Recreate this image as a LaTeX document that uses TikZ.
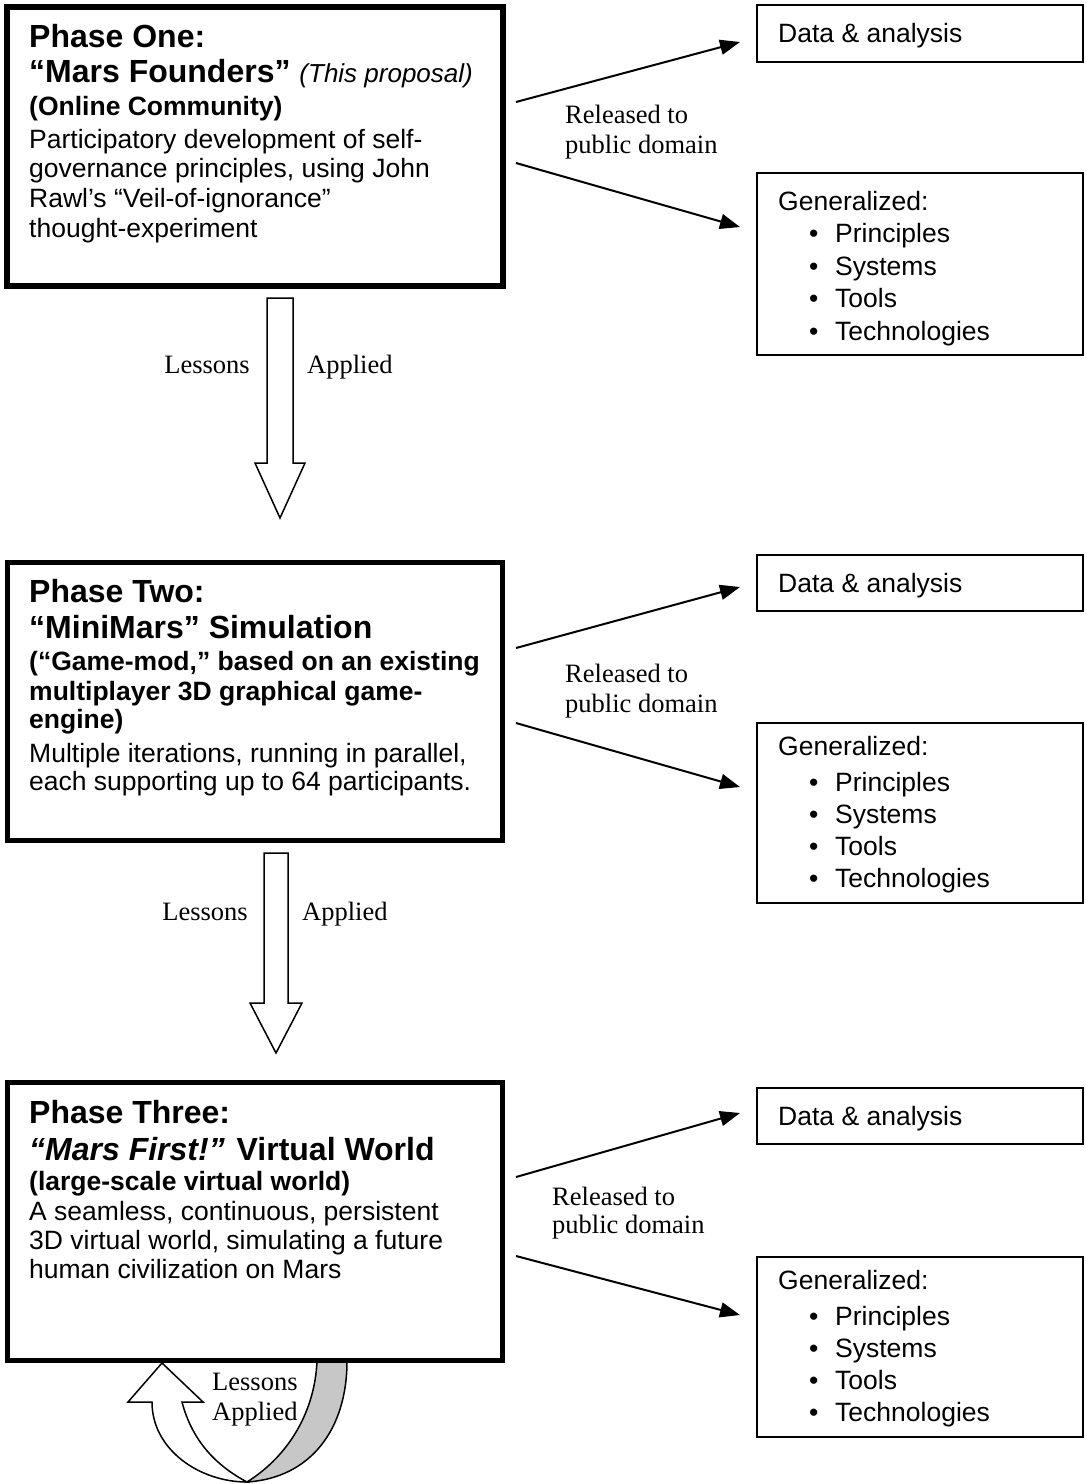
\documentclass[tikz,border=0pt]{standalone}
\usepackage{fontspec}
\setmainfont{Liberation Sans}
\newfontfamily\timesfont{Liberation Serif}
\usetikzlibrary{arrows.meta}

% plain word spaces of the font in force
\newcommand{\fontspaces}{\spaceskip=0pt\xspaceskip=0pt\relax}
\newcommand{\gitem}[2]{\par\fontsize{26.5}{#1}\selectfont\hspace*{31pt}\makebox[26pt][l]{•}#2}

\tikzset{
    phasebox/.style={draw, line width=5pt, anchor=north west, outer sep=0pt, inner sep=0pt},
    outbox/.style={draw, line width=2.5pt, anchor=north west, outer sep=0pt, inner sep=0pt,
        minimum width=326, minimum height=57},
    genbox/.style={outbox, minimum height=180},
    txt/.style={anchor=base west, inner sep=0pt, text width=470pt},
    boxtxt/.style={anchor=base west, inner sep=0pt, text width=290pt,
        font=\fontsize{26.5}{32.5}\selectfont},
    reltxt/.style={anchor=base west, inner sep=0pt, text width=180pt,
        font=\timesfont\fontsize{26.5}{30}\selectfont},
    lessontxt/.style={inner sep=0pt, font=\timesfont\fontsize{26.5}{30}\selectfont},
    rel/.style={-{Triangle[length=20pt,width=15pt]}, line width=2pt},
    fatarrow/.style={draw, line width=1.5pt, fill=white, line join=miter},
}

\begin{document}
\begin{tikzpicture}[x=1pt, y=-1pt]
    \useasboundingbox (0,0) rectangle (1085,1484);

    % Loop arrow under phase three
    \filldraw[fatarrow, fill=black!22] (317,1361) .. controls (315,1410) and (290,1455) .. (247,1482)
        .. controls (310,1478) and (347,1430) .. (347,1361) -- cycle;
    \filldraw[fatarrow] (203,1402) -- (162,1363) -- (128,1402) -- (152,1402)
        .. controls (152,1450) and (200,1482) .. (247,1482)
        .. controls (215,1465) and (192,1440) .. (182,1402) -- cycle;
    \node[lessontxt, anchor=base west, text width=90pt] (loop) at (212,1390) {Lessons\par Applied};

    % Phase boxes
    \node[phasebox, line width=6pt, minimum width=495.5, minimum height=279.5] (p1) at (7,6.5) {};
    \node[phasebox, minimum width=494.5, minimum height=278] (p2) at (7.5,562.5) {};
    \node[phasebox, minimum width=495, minimum height=278.5] (p3) at (7.5,1082) {};

    % Phase one text
    \node[txt] (t1) at (29,47) {\fontspaces
        \fontsize{32}{35}\selectfont\bfseries Phase One:\par
        \fontsize{32}{35}\selectfont “Mars Founders” {\mdseries\itshape\fontsize{26}{30}\selectfont (This proposal)}\par
        \fontsize{26.5}{33}\selectfont (Online Community)\par
        \mdseries\fontsize{26.5}{33}\selectfont Participatory development of self-\par
        \fontsize{26.5}{29.5}\selectfont governance principles, using John\par
        \fontsize{26.5}{30}\selectfont Rawl’s “Veil-of-ignorance”\par
        thought-experiment\par};

    % Phase two text
    \node[txt] (t2) at (29,602) {\fontspaces
        \fontsize{32}{36}\selectfont\bfseries Phase Two:\par
        “MiniMars” Simulation\par
        \fontsize{26.5}{32}\selectfont (“Game-mod,” based on an existing\par
        \fontsize{26.5}{30}\selectfont multiplayer 3D graphical game-\par
        \fontsize{26.5}{28}\selectfont engine)\par
        \mdseries\fontsize{26.5}{34}\selectfont Multiple iterations, running in parallel,\par
        \fontsize{26.5}{28}\selectfont each supporting up to 64 participants.\par};

    % Phase three text
    \node[txt] (t3) at (29,1123) {\fontspaces
        \fontsize{32}{37}\selectfont\bfseries Phase Three:\par
        {\itshape “Mars First!”} Virtual World\par
        \fontsize{26.5}{30}\selectfont (large-scale virtual world)\par
        \mdseries\fontsize{26.5}{30}\selectfont A seamless, continuous, persistent\par
        \fontsize{26.5}{29}\selectfont 3D virtual world, simulating a future\par
        human civilization on Mars\par};

    % Lessons applied arrows
    \filldraw[fatarrow] (267,298) -- (293,298) -- (293,463) -- (305,463) -- (280,518)
        -- (255,463) -- (267,463) -- cycle;
    \node[lessontxt, anchor=base east] (les1) at (250,373) {Lessons};
    \node[lessontxt, anchor=base west] (app1) at (307,373) {Applied};

    \filldraw[fatarrow] (264,853) -- (288,853) -- (288,1003) -- (302,1003) -- (276,1053)
        -- (250,1003) -- (264,1003) -- cycle;
    \node[lessontxt, anchor=base east] (les2) at (248,920) {Lessons};
    \node[lessontxt, anchor=base west] (app2) at (302,920) {Applied};

    % Output boxes
    \node[outbox] (d1) at (757,5) {};
    \node[genbox, minimum height=182] (g1) at (757,173) {};
    \node[outbox, minimum height=56] (d2) at (757,555) {};
    \node[genbox] (g2) at (757,723) {};
    \node[outbox, minimum height=56] (d3) at (757,1088) {};
    \node[genbox] (g3) at (757,1257) {};

    \foreach \n in {1,2,3} {
        \node[boxtxt] (dt\n) at ([shift={(21,37)}]d\n.north west) {\fontspaces Data \& analysis};
    }
    \node[boxtxt] (gt1) at ([shift={(21,37)}]g1.north west)
        {\fontspaces Generalized:\gitem{32.5}{Principles}\gitem{32.5}{Systems}\gitem{32.5}{Tools}\gitem{32}{Technologies}};
    \foreach \n in {2,3} {
        \node[boxtxt] (gt\n) at ([shift={(21,32)}]g\n.north west)
            {\fontspaces Generalized:\gitem{36}{Principles}\gitem{32}{Systems}\gitem{32}{Tools}\gitem{32}{Technologies}};
    }

    % Released to public domain
    \draw[rel] ([shift={(13.5,95.5)}]p1.north east) -- ([shift={(-17,8.5)}]d1.west);
    \draw[rel] ([shift={(13.5,156.5)}]p1.north east) -- ([shift={(-17,54)}]g1.north west);
    \node[reltxt] (r1) at (565,123) {\fontspaces Released to\par public domain};

    \draw[rel] ([shift={(14,85.5)}]p2.north east) -- ([shift={(-17,4)}]d2.west);
    \draw[rel] ([shift={(14,160.5)}]p2.north east) -- ([shift={(-17,64)}]g2.north west);
    \node[reltxt] (r2) at (565,682) {\fontspaces Released to\par public domain};

    \draw[rel] ([shift={(13.5,95)}]p3.north east) -- ([shift={(-17,-3)}]d3.west);
    \draw[rel] ([shift={(13.5,174)}]p3.north east) -- ([shift={(-17,58)}]g3.north west);
    \node[reltxt, font=\timesfont\fontsize{26.5}{28}\selectfont] (r3) at (552,1205) {\fontspaces Released to\par public domain};

\end{tikzpicture}
\end{document}
